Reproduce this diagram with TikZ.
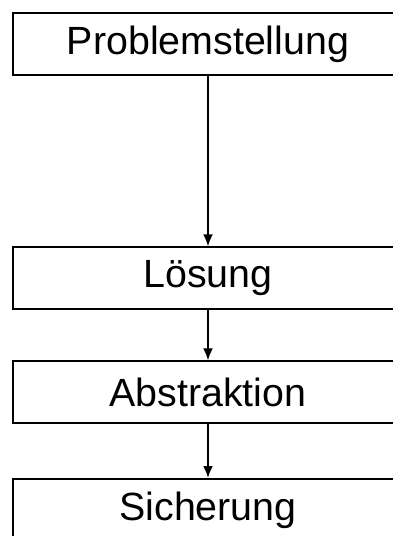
\documentclass[tikz,border=0pt]{standalone}
\usepackage{fontspec}
\setmainfont{Liberation Sans}
\usetikzlibrary{arrows.meta}

\begin{document}
\begin{tikzpicture}[
  phase/.style={draw, line width=1.4pt, minimum width=9.75cm, minimum height=1.55cm,
    inner sep=0pt, font=\fontsize{28}{32}\selectfont},
  flow/.style={-{Latex[length=3mm,width=2.5mm]}, line width=1.5pt},
  ]

  \useasboundingbox (0,0) rectangle (9.825,-13.4);
  \clip (0,0) rectangle (9.825,-13.4);

  \node[phase] (problem) at (5.2,-1.1) {Problemstellung};
  \node[phase] (loesung) at (5.2,-6.96) {Lösung};
  \node[phase] (abstrakt) at (5.2,-9.81) {Abstraktion};
  \node[phase] (sicher) at (5.2,-12.75) {Sicherung};

  \draw[flow] (problem) -- (loesung);
  \draw[flow] (loesung) -- (abstrakt);
  \draw[flow] (abstrakt) -- (sicher);

\end{tikzpicture}
\end{document}
